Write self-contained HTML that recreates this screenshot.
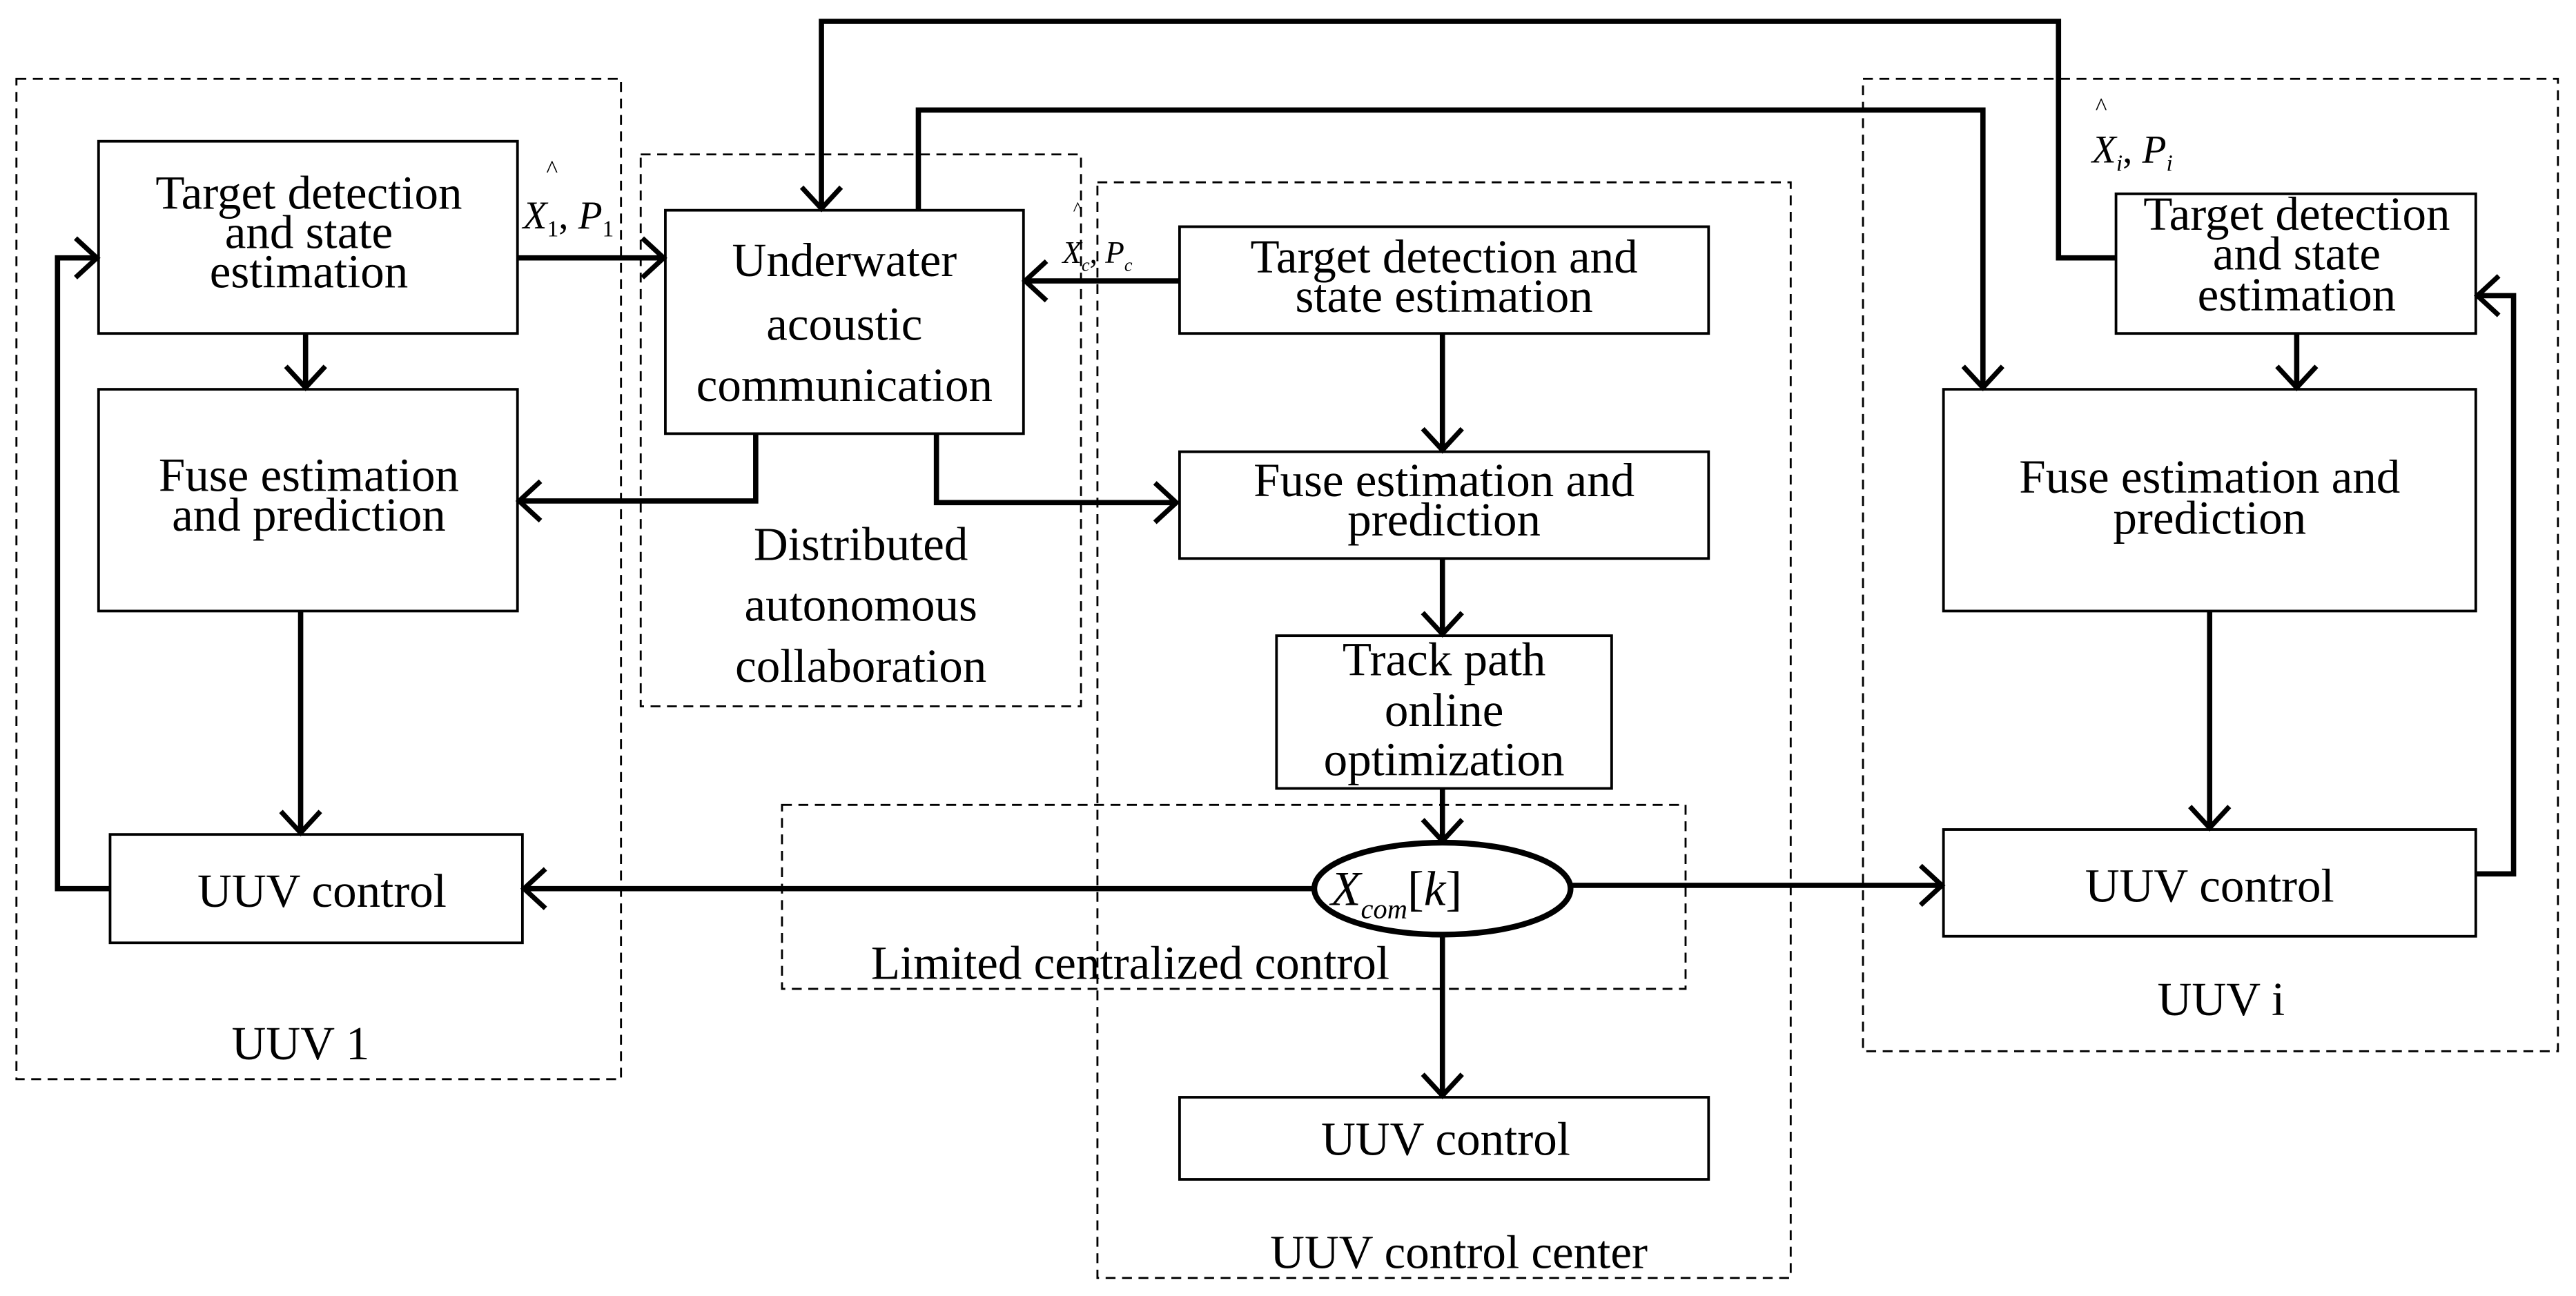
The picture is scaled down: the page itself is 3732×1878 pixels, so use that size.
<!DOCTYPE html>
<html><head><meta charset="utf-8"><style>html,body{margin:0;padding:0;background:#fff}svg{display:block}</style></head>
<body>
<svg width="3732" height="1878" viewBox="0 0 1568 789" preserveAspectRatio="none" xmlns="http://www.w3.org/2000/svg" font-family="'Liberation Serif', serif" font-size="29" text-anchor="middle">
<defs>
<marker id="a" markerUnits="userSpaceOnUse" markerWidth="40" markerHeight="40" refX="16" refY="14" orient="auto">
<path d="M3,2 L16,14 L3,26" fill="none" stroke="#000" stroke-width="3"/>
</marker>
</defs>
<rect width="1568" height="789" fill="#fff"/>
<g fill="none" stroke="#000" stroke-width="1.2" stroke-dasharray="6,4">
<rect x="10" y="48" width="368" height="609"/>
<rect x="390" y="94" width="268" height="336"/>
<rect x="668" y="111" width="422" height="667"/>
<rect x="476" y="490" width="550" height="112"/>
<rect x="1134" y="48" width="423" height="592"/>
</g>
<g fill="none" stroke="#000" stroke-width="1.6">
<rect x="60" y="86" width="255" height="117"/>
<rect x="60" y="237" width="255" height="135"/>
<rect x="67" y="508" width="251" height="66"/>
<rect x="405" y="128" width="218" height="136"/>
<rect x="718" y="138" width="322" height="65"/>
<rect x="718" y="275" width="322" height="65"/>
<rect x="777" y="387" width="204" height="93"/>
<rect x="718" y="668" width="322" height="50"/>
<rect x="1288" y="118" width="219" height="85"/>
<rect x="1183" y="237" width="324" height="135"/>
<rect x="1183" y="505" width="324" height="65"/>
</g>
<ellipse cx="878" cy="541" rx="78" ry="28" fill="#fff" stroke="#000" stroke-width="3.5"/>
<g fill="none" stroke="#000" stroke-width="3.2" marker-end="url(#a)">
<path d="M186,203 V236"/>
<path d="M183,372 V507"/>
<path d="M67,541 H35 V157 H59"/>
<path d="M315,157 H404"/>
<path d="M460,264 V305 H316"/>
<path d="M570,264 V306 H716"/>
<path d="M1288,157 H1253 V13 H500 V127"/>
<path d="M559,128 V67 H1207 V236"/>
<path d="M718,171 H624"/>
<path d="M878,203 V274"/>
<path d="M878,340 V386"/>
<path d="M878,480 V512"/>
<path d="M800,541 H319"/>
<path d="M956,539 H1182"/>
<path d="M878,569 V667"/>
<path d="M1398,203 V236"/>
<path d="M1345,372 V504"/>
<path d="M1507,532 H1530 V180 H1508"/>
</g>
<g fill="#000">
<text x="188" y="127">Target detection</text>
<text x="188" y="151">and state</text>
<text x="188" y="175">estimation</text>
<text x="188" y="299">Fuse estimation</text>
<text x="188" y="323">and prediction</text>
<text x="196" y="552">UUV control</text>
<text x="183" y="645">UUV 1</text>
<text x="514" y="168">Underwater</text>
<text x="514" y="207">acoustic</text>
<text x="514" y="244">communication</text>
<text x="524" y="341">Distributed</text>
<text x="524" y="378">autonomous</text>
<text x="524" y="415">collaboration</text>
<text x="879" y="166">Target detection and</text>
<text x="879" y="190">state estimation</text>
<text x="879" y="302">Fuse estimation and</text>
<text x="879" y="326">prediction</text>
<text x="879" y="411">Track path</text>
<text x="879" y="442">online</text>
<text x="879" y="472">optimization</text>
<text x="880" y="703">UUV control</text>
<text x="888" y="772">UUV control center</text>
<text x="688" y="596">Limited centralized control</text>
<text x="1398" y="140">Target detection</text>
<text x="1398" y="164">and state</text>
<text x="1398" y="189">estimation</text>
<text x="1345" y="300">Fuse estimation and</text>
<text x="1345" y="325">prediction</text>
<text x="1345" y="549">UUV control</text>
<text x="1352" y="618">UUV i</text>
<text x="850" y="551" font-style="italic" font-size="30">X<tspan font-size="17" dy="8">com</tspan><tspan font-style="normal" dy="-8">[</tspan>k<tspan font-style="normal">]</tspan></text>
<text x="346" y="139" font-size="24" font-style="italic">X<tspan font-style="normal" font-size="14" dy="5">1</tspan><tspan font-style="normal" dy="-5">, </tspan>P<tspan font-style="normal" font-size="14" dy="5">1</tspan></text>
<text x="336" y="108" font-size="15">^</text>
<text x="668" y="160" font-size="19" font-style="italic">X<tspan font-size="11" dy="5">c</tspan><tspan font-style="normal" dy="-5">, </tspan>P<tspan font-size="11" dy="5">c</tspan></text>
<text x="656" y="131" font-size="12">^</text>
<text x="1298" y="99" font-size="24" font-style="italic">X<tspan font-size="14" dy="5">i</tspan><tspan font-style="normal" dy="-5">, </tspan>P<tspan font-size="14" dy="5">i</tspan></text>
<text x="1279" y="70" font-size="15">^</text>
</g>
</svg>
</body></html>
